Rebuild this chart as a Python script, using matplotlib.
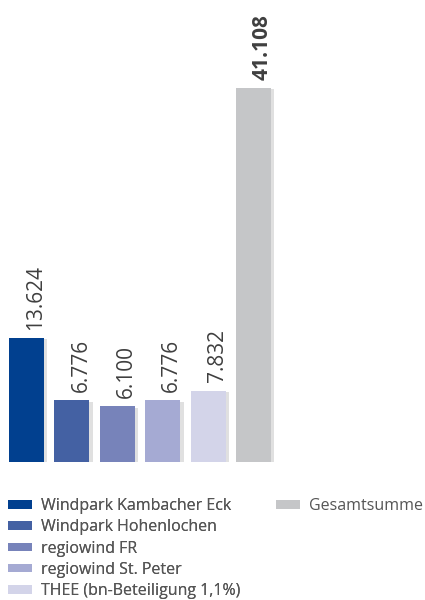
import matplotlib
matplotlib.use("Agg")
import matplotlib.pyplot as plt
import matplotlib.patheffects as pe
from matplotlib.patches import Patch

categories = ["Windpark Kambacher Eck", "Windpark Hohenlochen", "regiowind FR",
              "regiowind St. Peter", "THEE (bn-Beteiligung 1,1%)", "Gesamtsumme"]
values = [13.624, 6.776, 6.100, 6.776, 7.832, 41.108]
labels = ["13.624", "6.776", "6.100", "6.776", "7.832", "41.108"]
colors = ["#01408F", "#4461A3", "#7783BA", "#A5AAD3", "#D3D4E9", "#C5C6C8"]

plt.rcParams['font.family'] = ['Open Sans', 'DejaVu Sans']

W, H = 425, 600
fig = plt.figure(figsize=(W/100, H/100), dpi=100)
bottom_px = 462
ax = fig.add_axes([0, (H - bottom_px)/H, 1, bottom_px/H])
spacing = 45.4
scale = 9.1
ax.set_xlim(-26.5/spacing, -26.5/spacing + W/spacing)
ax.set_ylim(0, bottom_px/scale)
ax.axis('off')

x = list(range(len(values)))
bars = ax.bar(x, values, width=35/spacing, color=colors, zorder=3)
for b in bars:
    b.set_path_effects([pe.SimplePatchShadow(offset=(2.5, -1), shadow_rgbFace='#999999', alpha=0.3), pe.Normal()])

for i, (v, lab) in enumerate(zip(values, labels)):
    ax.annotate(lab, (i, v), xytext=(6.5, 6), textcoords='offset points',
                rotation=90, ha='center', va='bottom', fontsize=15,
                color='#3f3f3f', fontweight='bold' if i == len(values)-1 else 'normal')

handles = [Patch(facecolor=c, edgecolor='none') for c in colors]
fs = 11.5
leg1 = fig.legend(handles[:5], categories[:5], loc='upper left',
                  bbox_to_anchor=(0.0, (H - 490)/H), frameon=False, fontsize=fs,
                  handlelength=1.5, handleheight=0.45, handletextpad=0.55,
                  labelspacing=0.33, borderaxespad=0, borderpad=0.5,
                  labelcolor='#555555')
fig.add_artist(leg1)
leg2 = fig.legend(handles[5:], categories[5:], loc='upper left',
                  bbox_to_anchor=(268/W, (H - 490)/H), frameon=False, fontsize=fs,
                  handlelength=1.5, handleheight=0.45, handletextpad=0.55,
                  borderaxespad=0, borderpad=0.5, labelcolor='#555555')

fig.savefig("out.png", dpi=100)
